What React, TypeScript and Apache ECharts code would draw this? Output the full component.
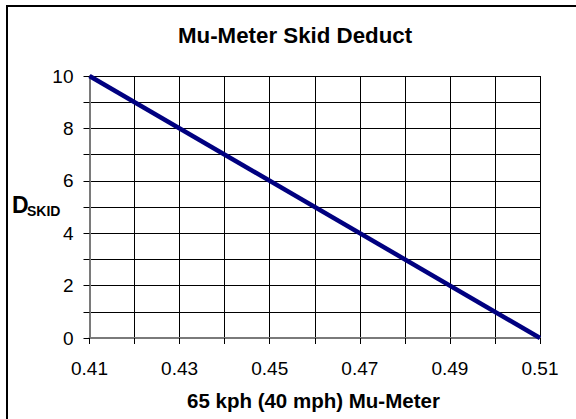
import React, { useEffect, useRef } from "react";
import * as echarts from "echarts";

const chartTitle = "Mu-Meter Skid Deduct";
const xAxisTitle = "65 kph (40 mph) Mu-Meter";
const yAxisTitleMain = "D";
const yAxisTitleSub = "SKID";

const muMeter = [0.41, 0.51];
const skidDeduct = [10, 0];

const xTickLabels = ["0.41", "0.43", "0.45", "0.47", "0.49", "0.51"];
const yTickLabels = ["0", "2", "4", "6", "8", "10"];

const FONT = "'Liberation Sans', Arial, Helvetica, sans-serif";

export default function App() {
  const ref = useRef<HTMLDivElement>(null);

  useEffect(() => {
    if (!ref.current) return;
    const chart = echarts.init(ref.current, null, { renderer: "svg" });
    const data = muMeter.map((x, i) => [x, skidDeduct[i]]);
    chart.setOption({
      animation: false,
      backgroundColor: "#ffffff",
      textStyle: { fontFamily: FONT },
      title: {
        text: chartTitle,
        left: 178,
        top: 24,
        padding: 0,
        textStyle: { fontFamily: FONT, fontSize: 22.3, fontWeight: "bold", color: "#000" },
      },
      grid: { left: 89.5, right: 36, top: 76, bottom: 81, containLabel: false },
      xAxis: {
        type: "value",
        min: 0.41,
        max: 0.51,
        interval: 0.01,
        axisLine: { show: true, lineStyle: { color: "#7a7a7a", width: 2 } },
        axisTick: { show: true, length: 6, lineStyle: { color: "#000", width: 1 } },
        splitLine: { show: true, lineStyle: { color: "#000", width: 1 } },
        axisLabel: {
          margin: 21,
          fontFamily: FONT,
          fontSize: 19,
          color: "#000",
          showMinLabel: true,
          showMaxLabel: true,
          formatter: (v: number) => {
            const s = v.toFixed(2);
            return xTickLabels.includes(s) ? s : "";
          },
        },
      },
      yAxis: {
        type: "value",
        min: 0,
        max: 10,
        interval: 1,
        axisLine: { show: true, lineStyle: { color: "#7a7a7a", width: 2 } },
        axisTick: { show: true, length: 6, lineStyle: { color: "#000", width: 1 } },
        splitLine: { show: true, lineStyle: { color: "#000", width: 1 } },
        axisLabel: {
          margin: 16,
          fontFamily: FONT,
          fontSize: 19,
          color: "#000",
          formatter: (v: number) => {
            const s = String(Math.round(v));
            return yTickLabels.includes(s) ? s : "";
          },
        },
      },
      series: [
        {
          type: "line",
          data,
          symbol: "none",
          lineStyle: { color: "#000080", width: 4.5 },
          z: 5,
        },
      ],
      graphic: [
        {
          type: "rect",
          shape: { x: 7, y: 6, width: 700, height: 600 },
          style: { fill: "none", stroke: "#000", lineWidth: 2 },
          silent: true,
        },
        {
          type: "text",
          x: 187,
          y: 400,
          style: {
            text: xAxisTitle,
            font: `bold 20.5px ${FONT}`,
            fill: "#000",
            align: "left",
            verticalAlign: "middle",
          },
        },
        {
          type: "text",
          x: 12,
          y: 205,
          style: {
            text: yAxisTitleMain,
            font: `bold 23px ${FONT}`,
            fill: "#000",
            align: "left",
            verticalAlign: "middle",
          },
        },
        {
          type: "text",
          x: 27,
          y: 211,
          style: {
            text: yAxisTitleSub,
            font: `bold 14px ${FONT}`,
            fill: "#000",
            align: "left",
            verticalAlign: "middle",
          },
        },
      ],
    });
    return () => chart.dispose();
  }, []);

  return (
    <div
      ref={ref}
      style={{ position: "fixed", left: 0, top: 0, width: 576, height: 419 }}
    />
  );
}
